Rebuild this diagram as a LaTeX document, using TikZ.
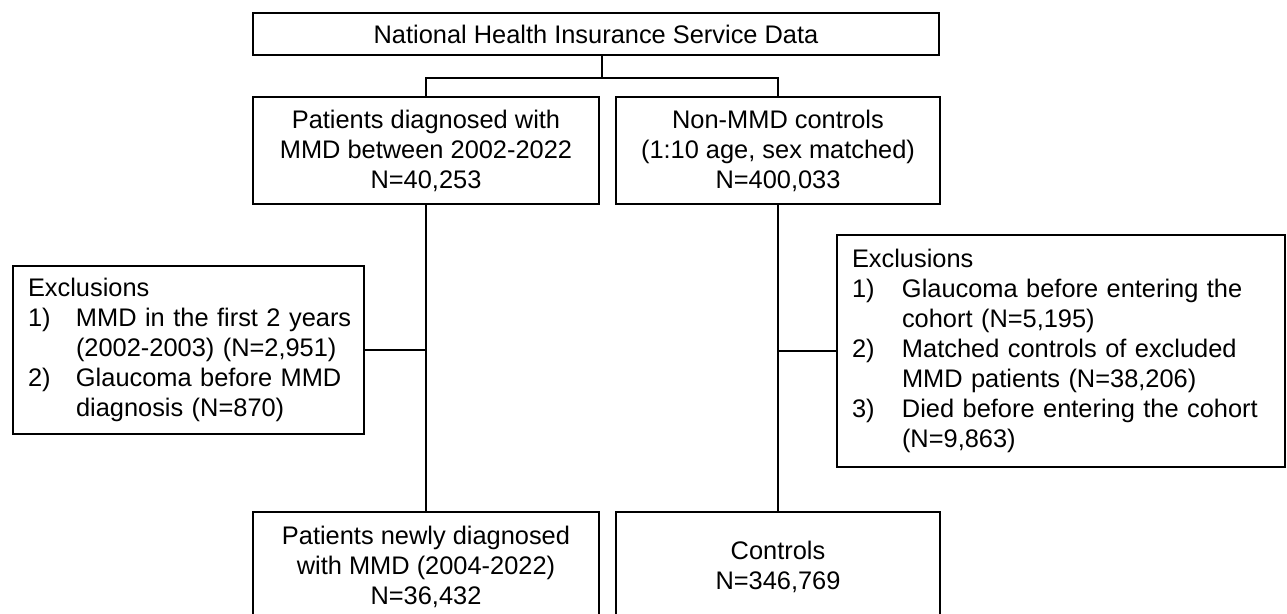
\documentclass[tikz,border=0pt]{standalone}
\usepackage{fontspec}
\setmainfont{Liberation Sans}
\begin{document}
\begin{tikzpicture}[x=1pt,y=-1pt,
  box/.style={draw, line width=1.3pt, inner sep=0pt, font=\fontsize{25.4}{30}\selectfont, align=center},
  exbox/.style={box, align=left},
  conn/.style={line width=2.2pt}]
\useasboundingbox (0,0) rectangle (1287,613);
\fill[white] (0,0) rectangle (1287,613);
\begin{scope}
\clip (0,0) rectangle (1287,613);
\node[box, minimum width=686pt, minimum height=42pt] (top) at (596,34) {National Health Insurance Service Data};
\node[box, minimum width=346pt, minimum height=107pt] (lb) at (426,150.5) {Patients diagnosed with\\MMD between 2002-2022\\N=40,253};
\node[box, minimum width=324pt, minimum height=107pt] (rb) at (778,150.5) {Non-MMD controls\\(1:10 age, sex matched)\\N=400,033};
\node[box, minimum width=346pt, minimum height=110pt] (lf) at (426,567) {Patients newly diagnosed\\with MMD (2004-2022)\\N=36,432};
\node[box, minimum width=324pt, minimum height=110pt] (rf) at (778,567) {Controls\\N=346,769};
\node[exbox, minimum width=351pt, minimum height=168pt, text width=321pt] (lex) at (188.5,350) {\mbox{Exclusions}\\
\mbox{\makebox[48pt][l]{1)}MMD in the first 2 years}\\
\mbox{\hspace*{48pt}(2002-2003) (N=2,951)}\\
\mbox{\makebox[48pt][l]{2)}Glaucoma before MMD}\\
\mbox{\hspace*{48pt}diagnosis (N=870)}};
\node[exbox, minimum width=448pt, minimum height=232pt, text width=418pt] (rex) at (1061,351) {\mbox{Exclusions}\\
\mbox{\makebox[50pt][l]{1)}Glaucoma before entering the}\\
\mbox{\hspace*{50pt}cohort (N=5,195)}\\
\mbox{\makebox[50pt][l]{2)}Matched controls of excluded}\\
\mbox{\hspace*{50pt}MMD patients (N=38,206)}\\
\mbox{\makebox[50pt][l]{3)}Died before entering the cohort}\\
\mbox{\hspace*{50pt}(N=9,863)}};
\end{scope}
\coordinate (j1) at (602,78);
\draw[conn] (top.south -| j1) -- (j1);
\draw[conn] (lb.north) |- (j1) -| (rb.north);
\draw[conn] (lb.south) -- (lf.north);
\draw[conn] (rb.south) -- (rf.north);
\draw[conn] (lex.east) -- (lex.east -| lb.south);
\draw[conn] (rex.west) -- (rex.west -| rb.south);
\end{tikzpicture}
\end{document}
